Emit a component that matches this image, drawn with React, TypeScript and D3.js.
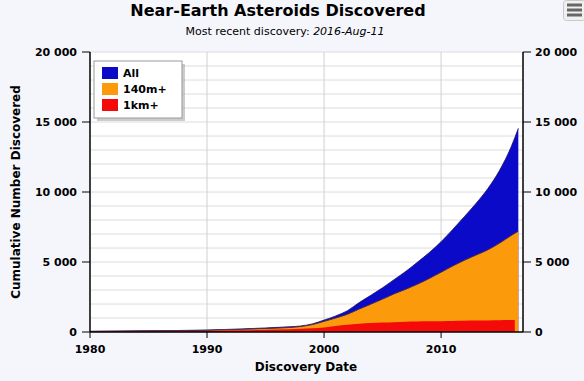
import React from "react";
import * as d3 from "d3";

// cumulative discoveries
const years = [1980, 1985, 1990, 1993, 1995, 1997, 1998, 1999, 2000, 2001, 2002, 2003, 2004, 2005, 2006, 2007, 2008, 2009, 2010, 2011, 2012, 2013, 2014, 2015, 2016, 2016.6];
const allValues = [50, 90, 140, 220, 290, 370, 430, 580, 850, 1150, 1520, 2100, 2620, 3160, 3750, 4340, 5000, 5680, 6450, 7330, 8250, 9200, 10250, 11550, 13250, 14550];
const m140Values = [40, 75, 120, 190, 250, 320, 390, 530, 760, 1000, 1270, 1640, 1990, 2350, 2730, 3060, 3420, 3830, 4270, 4720, 5130, 5500, 5870, 6350, 6900, 7200];
const kmYears = [1980, 1985, 1990, 1993, 1995, 1997, 1998, 1999, 2000, 2001, 2002, 2003, 2004, 2005, 2006, 2007, 2008, 2009, 2010, 2011, 2012, 2013, 2014, 2015, 2016, 2016.3];
const kmValues = [20, 45, 75, 120, 160, 200, 230, 270, 330, 430, 520, 590, 640, 675, 705, 730, 745, 760, 770, 785, 800, 815, 830, 840, 855, 860];

const xTicks = [1980, 1990, 2000, 2010];
const yTicks = [0, 5000, 10000, 15000, 20000];
const legendItems = [
  { label: "All", color: "#0a0ac8" },
  { label: "140m+", color: "#fb9a0a" },
  { label: "1km+", color: "#f50a0a" },
];

const width = 584,
  height = 381,
  margin = { top: 52, right: 61, bottom: 49, left: 90 };

const font = "'DejaVu Sans', Verdana, sans-serif";
const fmt = (v: number) => d3.format(",")(v).replace(/,/g, " ");

const App: React.FC = () => {
  const x = d3.scaleLinear().domain([1980, 2017]).range([margin.left, width - margin.right]);
  const y = d3.scaleLinear().domain([0, 20000]).range([height - margin.bottom, margin.top]);

  const mk = (ys: number[], vs: number[]) => ys.map((yr, i) => ({ yr, v: vs[i] }));
  const area = d3
    .area<{ yr: number; v: number }>()
    .curve(d3.curveMonotoneX)
    .x((d) => x(d.yr))
    .y0(y(0))
    .y1((d) => y(d.v));
  const line = d3
    .line<{ yr: number; v: number }>()
    .curve(d3.curveMonotoneX)
    .x((d) => x(d.yr))
    .y((d) => y(d.v));

  const allData = mk(years, allValues);
  const m140Data = mk(years, m140Values);
  const kmData = mk(kmYears, kmValues);

  const minor = d3.range(1000, 20001, 1000);
  const x0 = margin.left,
    x1 = width - margin.right,
    yb = height - margin.bottom,
    yt = margin.top;

  return (
    <svg
      width={width}
      height={height}
      style={{ position: "absolute", left: 0, top: 0, fontFamily: font }}
    >
      <rect width={width} height={height} fill="#f5f6fb" />
      <rect x={x0} y={yt} width={x1 - x0} height={yb - yt} fill="#ffffff" />

      {/* grid */}
      {minor.map((v) => (
        <line key={"h" + v} x1={x0} x2={x1} y1={y(v)} y2={y(v)} stroke="#dcdcdc" strokeWidth={1} />
      ))}
      {xTicks.slice(1).map((t) => (
        <line key={"v" + t} x1={x(t)} x2={x(t)} y1={yt} y2={yb} stroke="#d0d0d0" strokeWidth={1} />
      ))}

      {/* areas */}
      <path d={area(allData)!} fill={legendItems[0].color} />
      <path d={line(allData)!} fill="none" stroke="#1a1060" strokeWidth={0.8} />
      <path d={area(m140Data)!} fill={legendItems[1].color} />
      <path d={line(m140Data)!} fill="none" stroke="#4a2a50" strokeWidth={1} />
      <path d={area(kmData)!} fill={legendItems[2].color} />

      {/* axes */}
      <line x1={x0} x2={x0} y1={yt} y2={yb} stroke="#000" strokeWidth={1.5} />
      <line x1={x1} x2={x1} y1={yt} y2={yb} stroke="#000" strokeWidth={1.5} />
      <line x1={x0} x2={x1} y1={yb} y2={yb} stroke="#000" strokeWidth={1.5} />
      {yTicks.map((t) => (
        <g key={"yt" + t}>
          <line x1={x0 - 8} x2={x0} y1={y(t)} y2={y(t)} stroke="#000" />
          <text x={x0 - 13} y={y(t)} dy="0.35em" textAnchor="end" fontSize={11} fontWeight="bold" fill="#000">
            {fmt(t)}
          </text>
          <line x1={x1} x2={x1 + 8} y1={y(t)} y2={y(t)} stroke="#000" />
          <text x={x1 + 12} y={y(t)} dy="0.35em" textAnchor="start" fontSize={11} fontWeight="bold" fill="#000">
            {fmt(t)}
          </text>
        </g>
      ))}
      {xTicks.map((t) => (
        <g key={"xt" + t}>
          <line x1={x(t)} x2={x(t)} y1={yb} y2={yb + 6} stroke="#000" />
          <text x={x(t)} y={yb + 17} dy="0.35em" textAnchor="middle" fontSize={11} fontWeight="bold" fill="#000">
            {t}
          </text>
        </g>
      ))}

      {/* titles */}
      <text x={278} y={16} textAnchor="middle" fontSize={16} fontWeight="bold" fill="#000">
        Near-Earth Asteroids Discovered
      </text>
      <text x={285} y={35} textAnchor="middle" fontSize={11} fill="#000">
        Most recent discovery: <tspan fontStyle="italic">2016-Aug-11</tspan>
      </text>
      <text x={306} y={371} textAnchor="middle" fontSize={12} fontWeight="bold" fill="#000">
        Discovery Date
      </text>
      <text
        transform={`translate(20,${(yt + yb) / 2}) rotate(-90)`}
        textAnchor="middle"
        fontSize={12}
        fontWeight="bold"
        fill="#000"
      >
        Cumulative Number Discovered
      </text>

      {/* legend */}
      <rect x={97} y={64} width={88} height={57} fill="#999" opacity={0.5} />
      <rect x={94} y={61} width={88} height={57} fill="#fff" stroke="#999" />
      {legendItems.map((it, i) => (
        <g key={it.label}>
          <rect x={102} y={67 + i * 16} width={16} height={12} fill={it.color} />
          <text x={123} y={73 + i * 16} dy="0.35em" fontSize={11} fontWeight="bold" fill="#000">
            {it.label}
          </text>
        </g>
      ))}

      {/* menu button */}
      <rect x={563.5} y={0.5} width={22} height={20} rx={3} fill="#f0f0f0" stroke="#c8c8c8" />
      {[5, 10, 15].map((yy) => (
        <rect key={yy} x={567} y={yy - 1.5} width={15} height={3} fill="#666" />
      ))}
    </svg>
  );
};

export default App;
